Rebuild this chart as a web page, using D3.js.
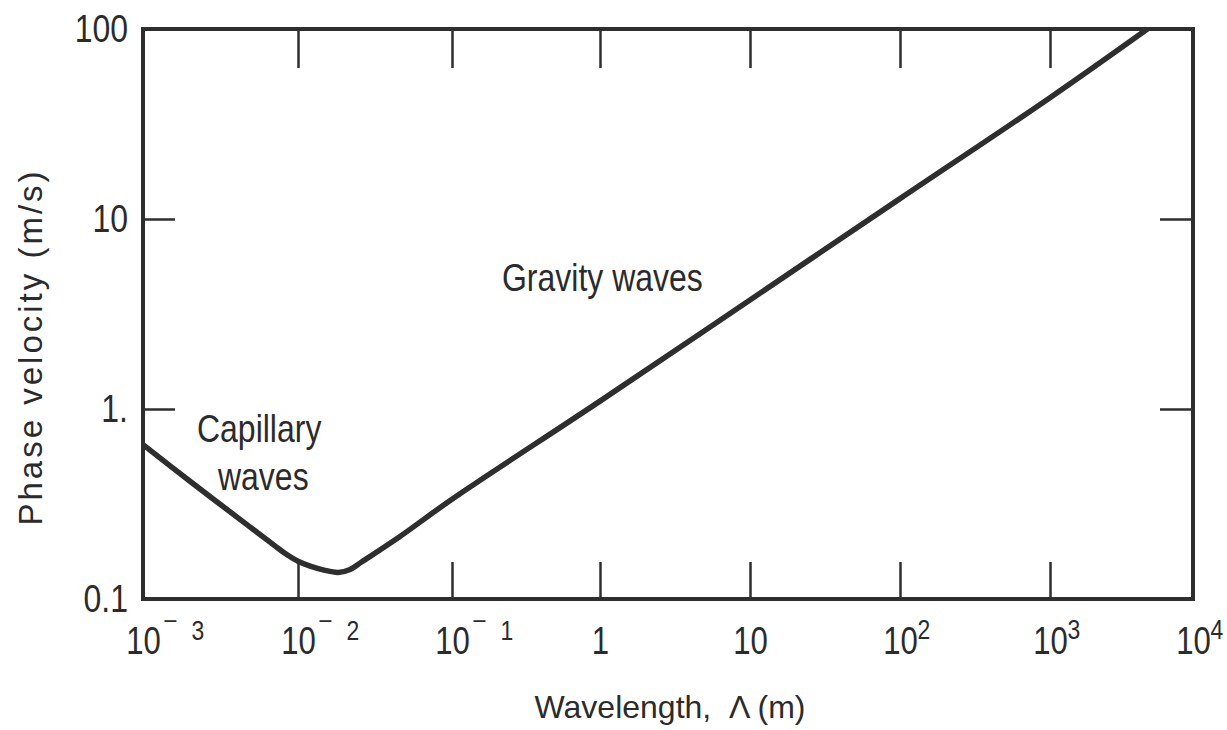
<!DOCTYPE html>
<html>
<head>
<meta charset="utf-8">
<script src="https://cdn.jsdelivr.net/npm/d3@7"></script>
<style>
  body { margin: 0; background: #fff; }
  text { fill: #2b2b2b; font-family: 'Liberation Sans', Arial, sans-serif; }
</style>
<title>Phase velocity vs wavelength</title>
</head>
<body>
<svg width="1227" height="730"></svg>
<script>
// curve: wavelength (m) and phase velocity (m/s)
const wavelength = [0.001, 0.002, 0.00475, 0.007, 0.00837, 0.01, 0.012, 0.01475, 0.0182, 0.0218, 0.026, 0.0447, 0.1, 1, 10, 100, 1000, 4800];
const velocity   = [0.65, 0.418, 0.244, 0.192, 0.1725, 0.158, 0.149, 0.142, 0.138, 0.143, 0.157, 0.21, 0.335, 1.1, 3.75, 12.8, 43.5, 100];

// decades on the x axis (exponents) and the y tick values / labels
const xDecades = [-3, -2, -1, 0, 1, 2, 3, 4];
const yTicks = [0.1, 1, 10, 100];
const yLabels = ["0.1", "1.", "10", "100"];

const svg = d3.select("svg");
const plotL = 143, plotR = 1193, plotT = 29, plotB = 599;
const squeeze = 0.82;   // the original lettering is a condensed face

// hand drawn original: decades are not quite even, so map exponents piecewise
const xLog = d3.scaleLinear().domain(xDecades).range([143, 298, 452, 600, 750, 900, 1050, 1193]);
const x = v => xLog(Math.log10(v));
const y = d3.scaleLog().domain([0.1, 100]).range([plotB, plotT]);

const ink = "#2e2e2e";

function narrowText(parent, px, py, size, str) {
  return parent.append("text")
    .attr("transform", "translate(" + px + "," + py + ") scale(" + squeeze + ",1)")
    .attr("text-anchor", "start")
    .attr("font-size", size)
    .text(str);
}

// bottom axis
const gx = svg.append("g")
  .attr("transform", "translate(0," + plotB + ")")
  .call(d3.axisBottom(xLog).tickValues(xDecades).tickSize(-37).tickPadding(28)
    .tickFormat(d => d === 0 ? "1" : "10"));
gx.selectAll(".tick text")
  .attr("font-size", 38)
  .attr("transform", "scale(" + squeeze + ",1)");
gx.selectAll(".tick").each(function(d) {
  if (d === 0 || d === 1) return;
  const t = d3.select(this);
  if (d < 0) {
    narrowText(t, 21, 29, 26, "–");
    narrowText(t, 48, 41, 28, -d);
  } else {
    narrowText(t, 17, 40, 28, d);
  }
});

// top axis, ticks only
svg.append("g")
  .attr("transform", "translate(0," + plotT + ")")
  .call(d3.axisTop(xLog).tickValues(xDecades.slice(1, -1)).tickSize(-39).tickFormat(""));

// left axis
const gy = svg.append("g")
  .attr("transform", "translate(" + plotL + ",0)")
  .call(d3.axisLeft(y).tickValues(yTicks).tickSize(-32).tickPadding(15)
    .tickFormat((d, i) => yLabels[i]));
gy.selectAll(".tick text")
  .attr("font-size", 39)
  .attr("x", -15 / squeeze)
  .attr("transform", "scale(" + squeeze + ",1)");

// right axis, ticks only
svg.append("g")
  .attr("transform", "translate(" + plotR + ",0)")
  .call(d3.axisRight(y).tickValues([1, 10]).tickSize(-33).tickFormat(""));

svg.selectAll(".domain").remove();
svg.selectAll(".tick line").attr("stroke", ink).attr("stroke-width", 2.5);
svg.selectAll(".tick text").attr("fill", "#2b2b2b").attr("font-family", null);

// frame
svg.append("rect")
  .attr("x", plotL).attr("y", plotT)
  .attr("width", plotR - plotL).attr("height", plotB - plotT)
  .attr("fill", "none").attr("stroke", ink).attr("stroke-width", 4);

// dispersion curve
const pts = wavelength.map((w, i) => [w, velocity[i]]);
svg.append("path")
  .datum(pts)
  .attr("fill", "none")
  .attr("stroke", ink)
  .attr("stroke-width", 5.5)
  .attr("stroke-linejoin", "round")
  .attr("d", d3.line().x(d => x(d[0])).y(d => y(d[1])).curve(d3.curveCatmullRom.alpha(0.5)));

// annotations
narrowText(svg, 197, 442, 39, "Capillary");
narrowText(svg, 218, 490, 39, "waves");
narrowText(svg, 502, 291, 39, "Gravity waves");

// axis titles
svg.append("text")
  .attr("transform", "translate(42,347) rotate(-90)")
  .attr("text-anchor", "middle")
  .attr("font-size", 33)
  .attr("letter-spacing", 3)
  .text("Phase velocity (m/s)");
svg.append("text")
  .attr("x", 670).attr("y", 718)
  .attr("text-anchor", "middle")
  .attr("font-size", 32)
  .text("Wavelength,\u00A0 Λ (m)");
</script>
</body>
</html>
